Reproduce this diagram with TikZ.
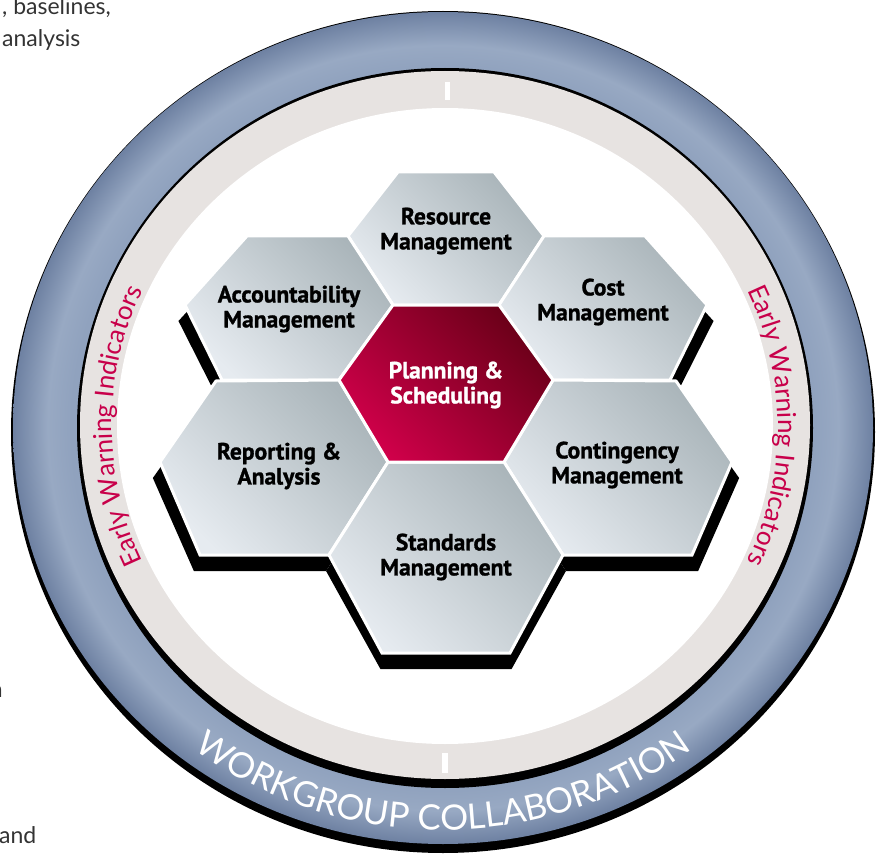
\documentclass[tikz,border=0pt]{standalone}
\usepackage{fontspec}
\usetikzlibrary{decorations.text}
\newfontfamily\hexfont{PT Sans}[BoldFeatures={FakeBold=1.2}]
\newfontfamily\ringfont{Lato}
\definecolor{ringA}{HTML}{90A2BE}
\definecolor{ringB}{HTML}{98A9C3}
\definecolor{ringC}{HTML}{6E81A2}
\definecolor{lightring}{HTML}{E7E3E1}
\definecolor{hexlight}{HTML}{E6EBF0}
\definecolor{hexdark}{HTML}{AAB5BA}
\definecolor{redlight}{HTML}{D0004A}
\definecolor{reddark}{HTML}{6A0018}
\definecolor{ewi}{HTML}{C8004A}
\definecolor{pagetext}{HTML}{333333}
\pgfdeclareradialshading{ringshade}{\pgfpoint{0bp}{0bp}}{color(0bp)=(ringA); color(21.6bp)=(ringA); color(23bp)=(ringB); color(25bp)=(ringC); color(50bp)=(ringC)}
\def\hexRes{(398,-172) -- (494,-172) -- (544,-236) -- (499,-305) -- (393,-305) -- (348,-236) -- cycle}
\def\hexAcc{(247,-236) -- (348,-236) -- (393,-305) -- (339,-380) -- (222,-380) -- (185,-305) -- cycle}
\def\hexCost{(544,-236) -- (645,-236) -- (707,-305) -- (670,-380) -- (553,-380) -- (499,-305) -- cycle}
\def\hexCen{(393,-305) -- (499,-305) -- (553,-380) -- (504,-462) -- (388,-462) -- (339,-380) -- cycle}
\def\hexRep{(216,-381) -- (339,-380) -- (388,-462) -- (329,-555) -- (200,-555) -- (160,-462) -- cycle}
\def\hexCon{(553,-380) -- (676,-381) -- (732,-462) -- (692,-555) -- (563,-555) -- (504,-462) -- cycle}
\def\hexStd{(388,-462) -- (504,-462) -- (563,-555) -- (510,-653) -- (382,-653) -- (329,-555) -- cycle}
\begin{document}
\begin{tikzpicture}[x=1pt,y=1pt,
  hexbox/.style={draw=white, line width=3pt, line join=miter, top color=hexdark, bottom color=hexlight, shading angle=-45},
  hexred/.style={draw=white, line width=3pt, line join=miter, top color=reddark, bottom color=redlight, shading angle=-45},
  hexlabel/.style={align=center, inner sep=0pt, font=\hexfont\bfseries\fontsize{23.5}{25}\selectfont, text=black},
  pagetxt/.style={inner sep=0pt, font=\ringfont\fontsize{23}{23}\selectfont, text=pagetext}
]
\useasboundingbox (0,0) rectangle (879,-856);
% rings
\fill[black] (443,-432) ellipse [x radius=432, y radius=421];
\shade[shading=ringshade] (443,-428) ellipse [x radius=430, y radius=416];
\fill[black] (445,-428) ellipse [x radius=368, y radius=360];
\fill[lightring] (445,-425) ellipse [x radius=365, y radius=354];
\fill[white] (445,-426) ellipse [x radius=328, y radius=318];
\fill[white] (445,-82) rectangle (450,-100);
\fill[white] (442,-753) rectangle (448,-773);
% ring texts
\path[decorate, decoration={text along path, text align=center, text color=ewi,
  text={|\ringfont\fontsize{26}{26}\selectfont|Early Warning Indicators}}]
  (445,-426) ++(208:333 and 323) arc[start angle=208, end angle=152, x radius=333, y radius=323];
\path[decorate, decoration={text along path, text align=center, text color=ewi,
  text={|\ringfont\fontsize{26}{26}\selectfont|Early Warning Indicators}}]
  (445,-426) ++(28:333 and 323) arc[start angle=28, end angle=-28, x radius=333, y radius=323];
\path[decorate, decoration={text along path, text align=center, text color=white,
  text={|\ringfont\fontsize{35}{35}\selectfont|WORKGROUP COLLABORATION}}]
  (443,-428) ++(226:414 and 402) arc[start angle=226, end angle=314, x radius=414, y radius=402];
% shadows
\begin{scope}[yshift=-16pt, xshift=446pt, xscale=1.025, xshift=-446pt]
  \fill[black] \hexAcc;
  \fill[black] \hexCost;
  \fill[black] \hexRep;
  \fill[black] \hexCon;
  \fill[black] \hexStd;
\end{scope}
% hexagons
\path[hexbox] \hexRes;
\path[hexbox] \hexAcc;
\path[hexbox] \hexCost;
\path[hexbox] \hexRep;
\path[hexbox] \hexCon;
\path[hexbox] \hexStd;
\path[hexred] \hexCen;
% labels
\node[hexlabel] (res) at (446,-231) {Resource\\Management};
\node[hexlabel] (acc) at (289,-309) {Accountability\\Management};
\node[hexlabel] (cost) at (603,-302) {Cost\\Management};
\node[hexlabel, text=white] (plan) at (446,-385) {Planning \&\\Scheduling};
\node[hexlabel] (rep) at (279,-466) {Reporting \&\\Analysis};
\node[hexlabel] (cont) at (617,-465) {Contingency\\Management};
\node[hexlabel] (std) at (446,-557) {Standards\\Management};
% page text fragments
\node[pagetxt, anchor=base west] (t1) at (2,-15) {, baselines,};
\node[pagetxt, anchor=base west] (t2) at (2,-47) {analysis};
\node[pagetxt, anchor=base east] (t3) at (3,-697) {n};
\node[pagetxt, anchor=base west] (t4) at (-1,-843) {and};
\end{tikzpicture}
\end{document}
